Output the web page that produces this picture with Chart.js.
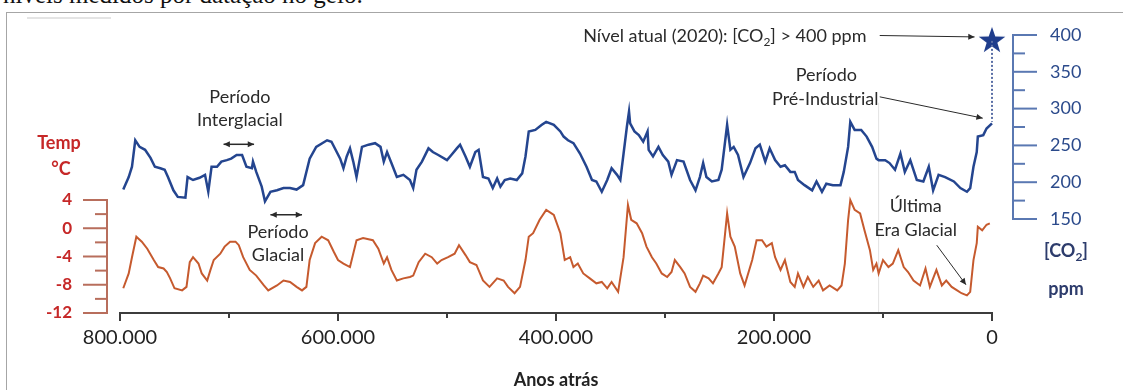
<!DOCTYPE html>
<html>
<head>
<meta charset="utf-8">
<script src="https://cdn.jsdelivr.net/npm/chart.js@4.4.1/dist/chart.umd.min.js"></script>
<style>
body { margin: 0; background: #fff; overflow: hidden; }
#pagina { position: relative; width: 1123px; height: 390px; overflow: hidden; }
#texto { position: absolute; left: 3px; top: -19px; line-height: 28px; font-family: "Liberation Serif", "Times New Roman", serif; font-size: 25px; color: #111; white-space: nowrap; }
#quadro { position: absolute; left: 6px; top: 12px; width: 1117px; height: 378px; border-left: 1px solid #a6a6a6; border-top: 1px solid #a6a6a6; }
#risco { position: absolute; left: 27px; top: 17px; width: 84px; height: 2px; background: #e4e4e4; }
#grafico { position: absolute; left: 0; top: 0; }
</style>
</head>
<body>
<div id="pagina">
  <div id="texto">níveis medidos por datação no gelo.</div>
  <div id="quadro"></div>
  <div id="risco"></div>
  <canvas id="grafico" width="1123" height="390"></canvas>
</div>
<script>
// milhares de anos atrás / ppm
var anosCO2 = [797, 792, 789, 786, 782, 777, 772, 768, 763, 759, 756, 751, 747, 740, 738, 733, 727, 722, 719, 716,
    711, 707, 702, 698, 693, 688, 684, 679, 678, 675, 670, 667, 662, 656, 650, 644, 638, 632, 626, 620,
    610, 606, 598, 595, 592, 589, 586, 583, 578, 572, 566, 561, 558, 555, 551, 546, 540, 534, 531, 528,
    523, 517, 513, 508, 500, 496, 491, 488, 483, 479, 474, 471, 467, 462, 458, 454, 451, 447, 442, 436,
    431, 428, 425, 419, 413, 409, 402, 396, 393, 389, 384, 378, 372, 367, 363, 358, 353, 349, 344, 341,
    338, 335, 333, 332, 328, 324, 320, 316, 315, 311, 306, 302, 297, 294, 289, 283, 277, 272, 268, 265,
    262, 257, 251, 248, 243, 240, 237, 233, 228, 222, 217, 213, 208, 204, 199, 194, 190, 185, 181, 178,
    172, 165, 161, 156, 152, 146, 139, 136, 132, 130, 126, 120, 115, 110, 106, 104, 98, 94, 89, 84,
    80, 75, 69, 63, 58, 54, 49, 43, 35, 29, 23, 20, 17, 14, 13, 8, 5, 0];
var valoresCO2 = [190, 207, 221, 257, 248, 244, 233, 221, 219, 217, 207, 189, 180, 179, 207, 203, 206, 210, 187, 221,
    221, 228, 230, 232, 237, 237, 221, 219, 228, 214, 194, 174, 187, 189, 192, 192, 190, 196, 232, 248,
    257, 255, 232, 219, 235, 246, 228, 207, 248, 251, 253, 248, 228, 241, 226, 207, 210, 203, 192, 217,
    228, 246, 241, 237, 230, 237, 246, 251, 235, 221, 241, 244, 207, 205, 192, 205, 194, 203, 205, 203,
    212, 235, 269, 271, 278, 282, 278, 269, 262, 257, 253, 239, 221, 203, 201, 187, 203, 219, 210, 203,
    239, 275, 296, 280, 269, 264, 255, 269, 244, 235, 248, 237, 228, 210, 230, 228, 203, 189, 207, 226,
    207, 201, 203, 217, 278, 244, 248, 237, 207, 226, 246, 251, 228, 246, 230, 221, 223, 214, 214, 203,
    196, 189, 201, 187, 198, 196, 196, 214, 248, 282, 271, 271, 262, 248, 232, 230, 230, 226, 217, 239,
    214, 230, 203, 201, 221, 189, 210, 207, 201, 192, 187, 192, 221, 241, 262, 264, 273, 280];

// milhares de anos atrás / °C
var anosTemp = [797, 792, 789, 785, 780, 775, 769, 765, 760, 757, 754, 750, 743, 739, 736, 733, 728, 725, 720, 717,
    714, 708, 704, 699, 694, 691, 687, 681, 675, 668, 664, 656, 650, 644, 638, 633, 629, 626, 621, 615,
    609, 604, 600, 595, 589, 583, 577, 568, 563, 558, 555, 551, 546, 540, 534, 531, 526, 520, 514, 509,
    505, 499, 493, 489, 483, 479, 473, 467, 461, 454, 448, 444, 438, 433, 428, 425, 421, 415, 409, 402,
    396, 392, 387, 384, 380, 375, 369, 363, 358, 353, 349, 343, 338, 334, 331, 326, 321, 317, 312, 308,
    303, 298, 294, 291, 286, 282, 277, 272, 268, 265, 260, 256, 251, 248, 243, 240, 236, 231, 227, 220,
    216, 211, 207, 202, 199, 194, 190, 185, 181, 178, 173, 169, 164, 159, 155, 149, 142, 138, 135, 132,
    130, 126, 121, 117, 112, 109, 106, 104, 100, 95, 91, 86, 81, 77, 72, 66, 61, 57, 51, 46,
    42, 37, 32, 28, 23, 20, 17, 14, 13, 9, 5, 2];
var valoresTemp = [-8.5, -6.4, -4.1, -1.2, -1.9, -2.9, -4.5, -5.5, -5.7, -6.2, -7.1, -8.5, -8.8, -8.3, -4.8, -4.1, -5.0, -6.4, -7.4, -5.9,
    -4.5, -3.6, -2.6, -1.9, -1.9, -2.4, -4.1, -5.9, -6.7, -8.1, -8.8, -8.1, -7.4, -7.6, -8.3, -8.8, -8.3, -4.5, -2.1, -1.2,
    -1.7, -3.3, -4.5, -5.0, -5.5, -1.7, -1.4, -1.7, -2.9, -5.0, -4.1, -5.9, -7.4, -7.1, -6.9, -6.7, -4.8, -3.6, -4.1, -5.0,
    -4.5, -4.1, -3.6, -2.4, -3.8, -4.8, -5.2, -7.4, -8.3, -7.1, -7.4, -8.3, -9.2, -8.3, -4.5, -1.2, -0.7, 1.2, 2.6, 1.9,
    -0.7, -4.5, -4.1, -5.5, -5.0, -6.4, -7.1, -7.8, -7.6, -8.5, -7.6, -9.0, -4.1, 3.3, 1.2, 0.7, -0.7, -2.6, -4.1, -5.0,
    -6.4, -6.9, -6.2, -4.5, -5.5, -6.4, -8.3, -9.0, -7.8, -6.7, -7.1, -7.8, -6.4, -5.5, 2.1, -1.2, -2.6, -6.4, -8.1, -4.5,
    -1.7, -1.7, -2.6, -2.1, -4.1, -5.9, -4.5, -7.6, -8.3, -6.4, -8.3, -6.9, -8.3, -7.4, -8.8, -8.1, -8.8, -8.1, -5.0, 1.2,
    4.0, 2.6, 2.1, -0.3, -3.1, -5.9, -5.0, -6.4, -4.5, -5.5, -5.0, -3.1, -5.5, -6.2, -7.4, -8.1, -5.7, -8.3, -5.9, -8.1,
    -7.4, -8.3, -8.8, -9.2, -9.5, -9.0, -4.5, -2.1, 0.2, -0.3, 0.5, 0.7];

var co2Atual = 392;          // estrela (2020)
var co2PreIndustrial = 282;  // fim da linha pontilhada

var ticksAnos = [800, 700, 600, 500, 400, 300, 200, 100, 0];
var rotulosAnos = ['800.000', '', '600.000', '', '400.000', '', '200.000', '', '0'];
var ticksTemp = [4, 2, 0, -2, -4, -6, -8, -10, -12];
var rotulosTemp = ['4', '', '0', '', '-4', '', '-8', '', '-12'];
var ticksCO2 = [400, 375, 350, 325, 300, 275, 250, 225, 200, 175, 150];
var rotulosCO2 = ['400', '', '350', '', '300', '', '250', '', '200', '', '150'];

var corCO2 = '#24458f';
var corTemp = '#c65a2e';

function criarEstrela(r, cor) {
    var c = document.createElement('canvas');
    c.width = c.height = r * 2 + 2;
    var g = c.getContext('2d');
    g.beginPath();
    for (var i = 0; i < 10; i++) {
        var raio = i % 2 === 0 ? r : r * 0.4;
        var ang = -Math.PI / 2 + i * Math.PI / 5;
        g.lineTo(r + 1 + raio * Math.cos(ang), r + 1 + raio * Math.sin(ang));
    }
    g.closePath();
    g.fillStyle = cor;
    g.fill();
    return c;
}

function escrever(ctx, partes, x, y, tam, peso, alinhar) {
    var fonte = function (sub) { return peso + ' ' + (sub ? Math.round(tam * 0.65) : tam) + 'px Lato'; };
    var total = 0;
    partes.forEach(function (p) { ctx.font = fonte(p[1]); total += ctx.measureText(p[0]).width; });
    var cx = alinhar === 'center' ? x - total / 2 : (alinhar === 'right' ? x - total : x);
    ctx.textAlign = 'left';
    ctx.textBaseline = 'middle';
    partes.forEach(function (p) {
        ctx.font = fonte(p[1]);
        ctx.fillText(p[0], cx, p[1] ? y + tam * 0.32 : y);
        cx += ctx.measureText(p[0]).width;
    });
}

function seta(ctx, x1, y1, x2, y2, dupla) {
    ctx.beginPath(); ctx.moveTo(x1, y1); ctx.lineTo(x2, y2); ctx.stroke();
    var cabeca = function (xa, ya, xb, yb) {
        var ang = Math.atan2(yb - ya, xb - xa);
        ctx.beginPath();
        ctx.moveTo(xb, yb);
        ctx.lineTo(xb - 7 * Math.cos(ang - 0.45), yb - 7 * Math.sin(ang - 0.45));
        ctx.lineTo(xb - 7 * Math.cos(ang + 0.45), yb - 7 * Math.sin(ang + 0.45));
        ctx.closePath();
        ctx.fill();
    };
    cabeca(x1, y1, x2, y2);
    if (dupla) cabeca(x2, y2, x1, y1);
}

var eixosPlugin = {
    id: 'eixos',
    beforeDatasetsDraw: function (chart) {
        // linha vertical clara (emenda da figura)
        var ctx = chart.ctx, a = chart.chartArea, sx = chart.scales.x, sc = chart.scales.yCO2;
        ctx.save();
        ctx.strokeStyle = '#e2e2e2';
        ctx.lineWidth = 1;
        ctx.beginPath();
        ctx.moveTo(sx.getPixelForValue(104), sc.getPixelForValue(308));
        ctx.lineTo(sx.getPixelForValue(104), a.bottom);
        ctx.stroke();
        ctx.restore();
    },
    afterDraw: function (chart) {
        var ctx = chart.ctx, a = chart.chartArea;
        var sx = chart.scales.x, sc = chart.scales.yCO2, st = chart.scales.yTemp;
        ctx.save();

        // eixo x
        ctx.strokeStyle = '#3c3c3c';
        ctx.lineWidth = 2;
        ctx.beginPath();
        ctx.moveTo(sx.getPixelForValue(800) - 1, a.bottom);
        ctx.lineTo(sx.getPixelForValue(0) + 1, a.bottom);
        ctx.stroke();
        ctx.fillStyle = '#222';
        ctx.font = '20px Lato';
        ctx.textAlign = 'center';
        ctx.textBaseline = 'middle';
        ticksAnos.forEach(function (v, i) {
            var px = sx.getPixelForValue(v);
            ctx.beginPath();
            ctx.moveTo(px, a.bottom);
            ctx.lineTo(px, a.bottom + (rotulosAnos[i] ? 8 : 5));
            ctx.stroke();
            if (rotulosAnos[i]) ctx.fillText(rotulosAnos[i], px, a.bottom + 25);
        });
        ctx.font = 'bold 18px Lato';
        ctx.fillText('Anos atrás', (a.left + a.right) / 2, a.bottom + 67);

        // eixo temperatura (esquerda)
        var xt = a.left - 13;
        ctx.strokeStyle = '#b86e5c';
        ctx.beginPath();
        ctx.moveTo(xt, st.getPixelForValue(4) - 1);
        ctx.lineTo(xt, st.getPixelForValue(-12) + 1);
        ctx.stroke();
        ctx.fillStyle = '#c62828';
        ctx.font = 'bold 17px Lato';
        ctx.textAlign = 'right';
        ticksTemp.forEach(function (v, i) {
            var py = st.getPixelForValue(v);
            ctx.beginPath();
            ctx.moveTo(xt, py);
            ctx.lineTo(xt - (rotulosTemp[i] ? 24 : 12), py);
            ctx.stroke();
            if (rotulosTemp[i]) ctx.fillText(rotulosTemp[i], a.left - 48, py);
        });
        ctx.textAlign = 'center';
        ctx.font = 'bold 18px Lato';
        ctx.fillText('Temp', 59, st.getPixelForValue(12));
        ctx.fillText('°C', 61, st.getPixelForValue(8.3));

        // eixo CO2 (direita)
        var xc = a.right + 21;
        ctx.strokeStyle = '#5a78b2';
        ctx.beginPath();
        ctx.moveTo(xc, sc.getPixelForValue(400) - 1);
        ctx.lineTo(xc, sc.getPixelForValue(150) + 1);
        ctx.stroke();
        ctx.fillStyle = '#2b4a8b';
        ctx.font = '18px Lato';
        ctx.textAlign = 'left';
        ticksCO2.forEach(function (v, i) {
            var py = sc.getPixelForValue(v);
            ctx.beginPath();
            ctx.moveTo(xc, py);
            ctx.lineTo(xc + (rotulosCO2[i] ? 24 : 12), py);
            ctx.stroke();
            if (rotulosCO2[i]) ctx.fillText(rotulosCO2[i], a.right + 58, py);
        });
        ctx.fillStyle = '#2d3c6c';
        escrever(ctx, [['[CO', false], ['2', true], [']', false]], a.right + 74, st.getPixelForValue(-3.3), 18, 'bold', 'center');
        escrever(ctx, [['ppm', false]], a.right + 74, st.getPixelForValue(-8.6), 18, 'bold', 'center');

        // anotações
        ctx.fillStyle = '#2a2a2a';
        ctx.strokeStyle = '#2a2a2a';
        ctx.lineWidth = 1;
        escrever(ctx, [['Nível atual (2020): [CO', false], ['2', true], ['] > 400 ppm', false]],
            sx.getPixelForValue(375), sc.getPixelForValue(398), 18, 'normal', 'left');
        seta(ctx, sx.getPixelForValue(103), sc.getPixelForValue(399.3), sx.getPixelForValue(16), sc.getPixelForValue(397.4), false);

        escrever(ctx, [['Período', false]], sx.getPixelForValue(152), sc.getPixelForValue(346), 18, 'normal', 'center');
        escrever(ctx, [['Pré-Industrial', false]], sx.getPixelForValue(153), sc.getPixelForValue(313), 18, 'normal', 'center');
        seta(ctx, sx.getPixelForValue(103), sc.getPixelForValue(316), sx.getPixelForValue(8.5), sc.getPixelForValue(287), false);

        escrever(ctx, [['Período', false]], sx.getPixelForValue(690), sc.getPixelForValue(316), 18, 'normal', 'center');
        escrever(ctx, [['Interglacial', false]], sx.getPixelForValue(690), sc.getPixelForValue(283.6), 18, 'normal', 'center');
        ctx.lineWidth = 1.5;
        seta(ctx, sx.getPixelForValue(705), sc.getPixelForValue(251.5), sx.getPixelForValue(677), sc.getPixelForValue(251.5), true);

        escrever(ctx, [['Período', false]], sx.getPixelForValue(655), st.getPixelForValue(-0.5), 18, 'normal', 'center');
        escrever(ctx, [['Glacial', false]], sx.getPixelForValue(655), st.getPixelForValue(-3.8), 18, 'normal', 'center');
        seta(ctx, sx.getPixelForValue(662), st.getPixelForValue(1.9), sx.getPixelForValue(633), st.getPixelForValue(1.9), true);

        ctx.lineWidth = 1;
        escrever(ctx, [['Última', false]], sx.getPixelForValue(70), st.getPixelForValue(3.15), 18, 'normal', 'center');
        escrever(ctx, [['Era Glacial', false]], sx.getPixelForValue(70), st.getPixelForValue(-0.25), 18, 'normal', 'center');
        seta(ctx, sx.getPixelForValue(50.7), st.getPixelForValue(-2.4), sx.getPixelForValue(23.9), st.getPixelForValue(-8.0), false);

        ctx.restore();
    }
};

var contexto = document.getElementById('grafico').getContext('2d');
var grafico = new Chart(contexto, {
    type: 'line',
    data: {
        datasets: [{
            data: [{ x: 0, y: co2Atual }, { x: 0, y: co2PreIndustrial }],
            yAxisID: 'yCO2',
            borderColor: '#5a6fa6',
            borderWidth: 2,
            borderDash: [2, 2],
            pointRadius: 0,
            clip: false
        }, {
            data: anosCO2.map(function (a, i) { return { x: a, y: valoresCO2[i] }; }),
            yAxisID: 'yCO2',
            borderColor: corCO2,
            borderWidth: 2.5,
            pointRadius: 0,
            tension: 0,
            clip: false
        }, {
            data: anosTemp.map(function (a, i) { return { x: a, y: valoresTemp[i] }; }),
            yAxisID: 'yTemp',
            borderColor: corTemp,
            borderWidth: 2,
            pointRadius: 0,
            tension: 0,
            clip: false
        }, {
            data: [{ x: 0, y: co2Atual }],
            yAxisID: 'yCO2',
            showLine: false,
            pointStyle: criarEstrela(14, '#1f3d8c'),
            pointRadius: 14,
            clip: false
        }]
    },
    options: {
        responsive: false,
        animation: false,
        layout: { padding: { left: 120, right: 131, top: 35, bottom: 77 } },
        plugins: { legend: { display: false }, tooltip: { enabled: false } },
        scales: {
            x: { type: 'linear', reverse: true, min: 0, max: 800, display: false },
            yCO2: { type: 'linear', min: 22.3, max: 400, display: false },
            yTemp: { type: 'linear', min: -12, max: 27.36, display: false }
        }
    },
    plugins: [eixosPlugin]
});
</script>
</body>
</html>
